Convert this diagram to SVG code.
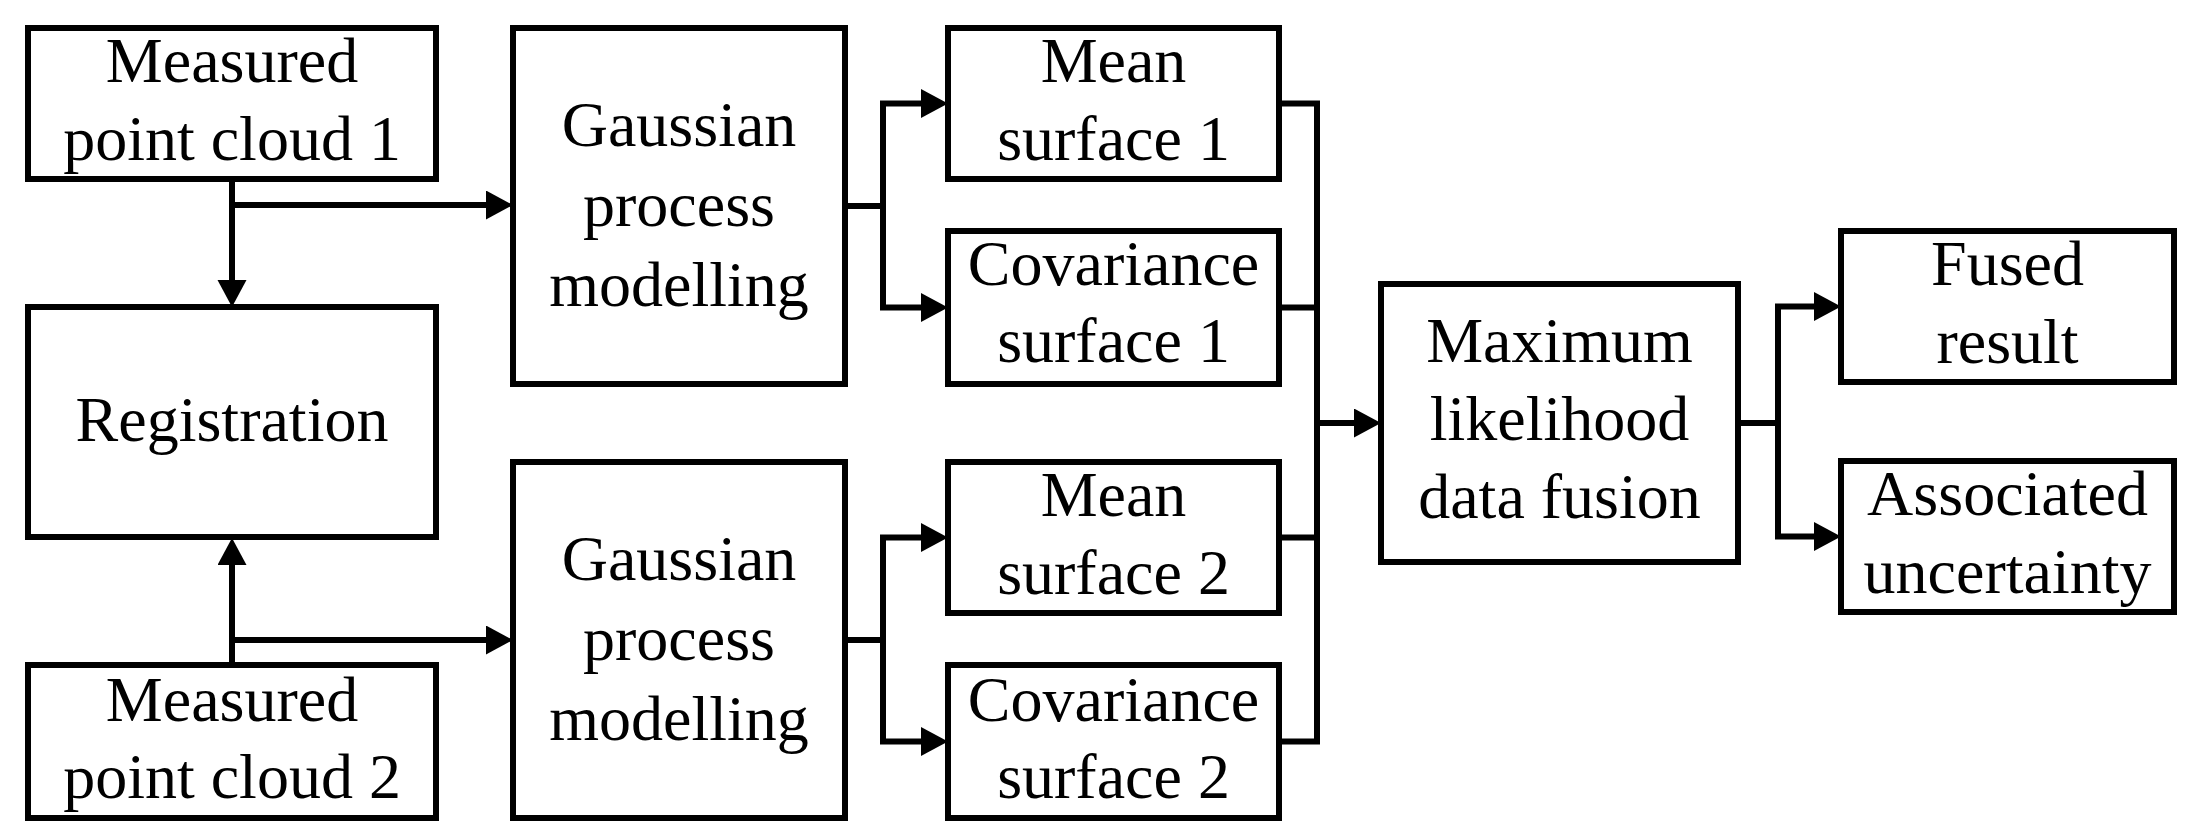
<svg xmlns="http://www.w3.org/2000/svg" width="2193" height="836" viewBox="0 0 2193 836">
<style>
.box{fill:#fff;stroke:#000;stroke-width:6}
.t{font-family:"Liberation Serif","Times New Roman",serif;font-size:64px;fill:#000;text-anchor:middle}
.c{fill:none;stroke:#000;stroke-width:6;stroke-linejoin:miter}
</style>
<defs>
<marker id="ah" markerUnits="userSpaceOnUse" markerWidth="30" markerHeight="30" refX="0" refY="14.5" orient="auto">
<path d="M0,0 L27,14.5 L0,29 Z" fill="#000"/>
</marker>
</defs>
<rect width="2193" height="836" fill="#fff"/>
<g id="connectors">
<path class="c" d="M232,179 V280" marker-end="url(#ah)"/>
<path class="c" d="M232,205 H486" marker-end="url(#ah)"/>
<path class="c" d="M232,665 V565" marker-end="url(#ah)"/>
<path class="c" d="M232,640 H486" marker-end="url(#ah)"/>
<path class="c" d="M845,206 H883 V103.5 H921" marker-end="url(#ah)"/>
<path class="c" d="M883,206 V307.5 H921" marker-end="url(#ah)"/>
<path class="c" d="M845,640 H883 V537.5 H921" marker-end="url(#ah)"/>
<path class="c" d="M883,640 V741.5 H921" marker-end="url(#ah)"/>
<path class="c" d="M1279,103.5 H1317 V741.5 H1279"/>
<path class="c" d="M1279,307.5 H1317"/>
<path class="c" d="M1279,537.5 H1317"/>
<path class="c" d="M1317,423 H1354" marker-end="url(#ah)"/>
<path class="c" d="M1738,423 H1778 V306.5 H1814" marker-end="url(#ah)"/>
<path class="c" d="M1778,423 V536.5 H1814" marker-end="url(#ah)"/>
</g>
<g id="mpc1"><rect class="box" x="28" y="28" width="408" height="151"/><text class="t" x="232" y="82">Measured</text><text class="t" x="232" y="160">point cloud 1</text></g>
<g id="registration"><rect class="box" x="28" y="307" width="408" height="230"/><text class="t" x="232" y="441">Registration</text></g>
<g id="mpc2"><rect class="box" x="28" y="665" width="408" height="153"/><text class="t" x="232" y="721">Measured</text><text class="t" x="232" y="798">point cloud 2</text></g>
<g id="gp1"><rect class="box" x="513" y="28" width="332" height="356"/><text class="t" x="679" y="146">Gaussian</text><text class="t" x="679" y="226">process</text><text class="t" x="679" y="306">modelling</text></g>
<g id="gp2"><rect class="box" x="513" y="462" width="332" height="356"/><text class="t" x="679" y="580">Gaussian</text><text class="t" x="679" y="660">process</text><text class="t" x="679" y="740">modelling</text></g>
<g id="mean1"><rect class="box" x="948" y="28" width="331" height="151"/><text class="t" x="1113.5" y="82">Mean</text><text class="t" x="1113.5" y="160">surface 1</text></g>
<g id="cov1"><rect class="box" x="948" y="231" width="331" height="153"/><text class="t" x="1113.5" y="285">Covariance</text><text class="t" x="1113.5" y="362">surface 1</text></g>
<g id="mean2"><rect class="box" x="948" y="462" width="331" height="151"/><text class="t" x="1113.5" y="516">Mean</text><text class="t" x="1113.5" y="594">surface 2</text></g>
<g id="cov2"><rect class="box" x="948" y="665" width="331" height="153"/><text class="t" x="1113.5" y="721">Covariance</text><text class="t" x="1113.5" y="798">surface 2</text></g>
<g id="fusion"><rect class="box" x="1381" y="284" width="357" height="278"/><text class="t" x="1559.5" y="362">Maximum</text><text class="t" x="1559.5" y="440">likelihood</text><text class="t" x="1559.5" y="518">data fusion</text></g>
<g id="fused"><rect class="box" x="1841" y="231" width="333" height="151"/><text class="t" x="2007.5" y="285">Fused</text><text class="t" x="2007.5" y="363">result</text></g>
<g id="assoc"><rect class="box" x="1841" y="461" width="333" height="151"/><text class="t" x="2007.5" y="515">Associated</text><text class="t" x="2007.5" y="593">uncertainty</text></g>
</svg>
